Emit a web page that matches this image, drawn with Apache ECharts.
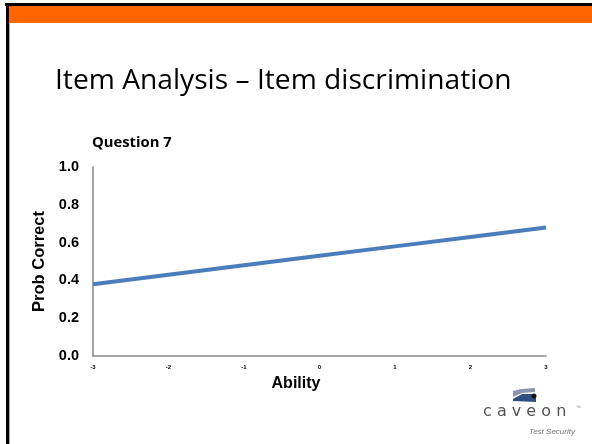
<!DOCTYPE html>
<html>
<head>
<meta charset="utf-8">
<script src="https://cdn.jsdelivr.net/npm/echarts@6/dist/echarts.min.js"></script>
<style>
  html, body { margin: 0; padding: 0; background: #fff; }
  #main { width: 592px; height: 444px; }
</style>
</head>
<body>
<div id="main"></div>
<script>
// ability levels and probability of a correct answer
const abilities = [-3, -2, -1, 0, 1, 2, 3];
const probCorrect = [0.38, 0.43, 0.48, 0.53, 0.58, 0.63, 0.68];

const chartDom = document.getElementById("main");
const myChart = echarts.init(chartDom);

const option = {
  animation: false,
  title: [
    {
      text: "Item Analysis \u2013 Item discrimination",
      left: 50,
      top: 62,
      textStyle: { fontFamily: "Open Sans", fontWeight: "normal", fontSize: 28.2, color: "#000" },
    },
    {
      text: "Question 7",
      left: 87,
      top: 130,
      textStyle: { fontFamily: "Open Sans", fontWeight: "bold", fontSize: 14.8, color: "#000" },
    },
  ],
  grid: {
    left: 93,
    right: 46,
    top: 167,
    bottom: 88,
  },
  xAxis: {
    type: "value",
    min: -3,
    max: 3,
    interval: 1,
    splitLine: { show: false },
    axisTick: { show: false },
    axisLine: { lineStyle: { color: "#868686", width: 1.5 } },
    axisLabel: { fontSize: 6, fontWeight: "bold", color: "#000", margin: 8 },
  },
  yAxis: {
    type: "value",
    min: 0,
    max: 1,
    interval: 0.2,
    name: "Prob Correct",
    nameLocation: "middle",
    nameGap: 42,
    nameTextStyle: { fontFamily: "Liberation Sans", fontWeight: "bold", fontSize: 16.5, color: "#000" },
    splitLine: { show: false },
    axisTick: { show: false },
    axisLine: { show: true, onZero: false, lineStyle: { color: "#868686", width: 1.5 } },
    axisLabel: {
      fontFamily: "Liberation Sans",
      fontSize: 14.5,
      fontWeight: "bold",
      color: "#000",
      margin: 14,
      formatter: (v) => v.toFixed(1),
    },
  },
  series: [
    {
      type: "line",
      data: abilities.map((a, i) => [a, probCorrect[i]]),
      symbol: "none",
      lineStyle: { color: "#4a7ebb", width: 4 },
    },
  ],
  graphic: [
    // slide frame and orange header bar
    { type: "rect", shape: { x: 5, y: 3, width: 587, height: 3 }, style: { fill: "#000" } },
    { type: "rect", shape: { x: 7, y: 6, width: 585, height: 17 }, style: { fill: "#ff6600" } },
    { type: "rect", shape: { x: 6, y: 3, width: 3, height: 441 }, style: { fill: "#000" } },
    { type: "rect", shape: { x: 9, y: 23, width: 1, height: 421 }, style: { fill: "#aaa" } },
    // x axis title (sits left of centre in the original)
    {
      type: "text",
      x: 296,
      y: 384,
      style: {
        text: "Ability",
        fontFamily: "Liberation Sans",
        fontWeight: "bold",
        fontSize: 16,
        fill: "#000",
        align: "center",
        verticalAlign: "middle",
      },
    },
    // caveon logo
    {
      type: "polygon",
      shape: { points: [[513, 391], [521, 389], [535, 388], [535, 392], [522, 393], [513, 397]] },
      style: { fill: "#8a95b5" },
    },
    {
      type: "polygon",
      shape: { points: [[513, 399], [522, 394], [532, 394], [536, 398], [536, 402], [513, 401]] },
      style: { fill: "#2f4f82" },
    },
    { type: "circle", shape: { cx: 534, cy: 396, r: 2.5 }, style: { fill: "#111" } },
    {
      type: "text",
      left: 483,
      top: 404,
      style: { text: "c a v e o n", fontFamily: "DejaVu Sans", fontSize: 16, fill: "#555" },
    },
    {
      type: "text",
      left: 576,
      top: 405,
      style: { text: "\u2122", fontSize: 5, fill: "#777" },
    },
    {
      type: "text",
      left: 529,
      top: 428,
      style: { text: "Test Security", fontFamily: "Liberation Sans", fontStyle: "italic", fontSize: 8, fill: "#777" },
    },
  ],
};

option && myChart.setOption(option);
</script>
</body>
</html>
